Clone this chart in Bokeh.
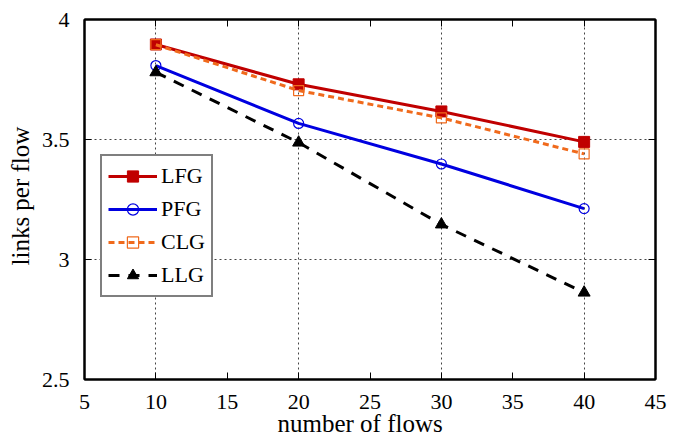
from bokeh.plotting import figure
from bokeh.models import (Range1d, FixedTicker, LinearAxis, CustomJSTickFormatter, Legend, LegendItem, Title)
from bokeh.embed import file_html
from bokeh.resources import INLINE

flows = [10, 20, 30, 40]
lfg = [3.896, 3.730, 3.617, 3.490]
pfg = [3.808, 3.567, 3.398, 3.212]
clg = [3.895, 3.704, 3.590, 3.440]
llg = [3.780, 3.487, 3.146, 2.862]

x_ticks = [5, 10, 15, 20, 25, 30, 35, 40, 45]
y_ticks = [2.5, 3, 3.5, 4]
x_grid = [10, 20, 30, 40]
y_grid = [3, 3.5]

FONT = "Liberation Serif"

p = figure(width=681, height=439, output_backend="svg", toolbar_location=None,
           x_range=Range1d(5, 45), y_range=Range1d(2.5, 4),
           min_border_left=84, min_border_right=26, min_border_top=19, min_border_bottom=60)
p.outline_line_color = "black"
p.outline_line_width = 2
p.background_fill_color = "white"
p.border_fill_color = "white"

fmt = CustomJSTickFormatter(code="return tick.toString();")

for ax in [p.xaxis[0], p.yaxis[0]]:
    ax.major_tick_in = 7
    ax.major_tick_out = 0
    ax.minor_tick_in = 0
    ax.minor_tick_out = 0
    ax.axis_line_width = 2
    ax.major_tick_line_width = 1
    ax.major_label_text_font = FONT
    ax.major_label_text_font_size = "22px"
    ax.major_label_text_color = "black"
    ax.formatter = fmt

p.xaxis[0].ticker = FixedTicker(ticks=x_ticks)
p.yaxis[0].ticker = FixedTicker(ticks=y_ticks)
p.xaxis[0].major_label_standoff = 15
p.yaxis[0].major_label_standoff = 15

xlabel = Title(text="number of flows", align="left", offset=193, standoff=-7,
               text_font=FONT, text_font_size="25px", text_font_style="normal",
               text_color="black")
p.add_layout(xlabel, "below")

ylabel = Title(text="links per flow", align="left", offset=114, standoff=9,
               text_font=FONT, text_font_size="25px", text_font_style="normal",
               text_color="black")
p.add_layout(ylabel, "left")

empty = CustomJSTickFormatter(code="return '';")
top = LinearAxis(ticker=FixedTicker(ticks=x_ticks), formatter=empty, major_tick_in=7, major_tick_out=0,
                 minor_tick_in=0, minor_tick_out=0, axis_line_width=2,
                 major_label_text_font_size="1px", major_label_standoff=0)
right = LinearAxis(ticker=FixedTicker(ticks=y_ticks), formatter=empty, major_tick_in=7, major_tick_out=0,
                   minor_tick_in=0, minor_tick_out=0, axis_line_width=2,
                   major_label_text_font_size="1px", major_label_standoff=0)
p.add_layout(top, "above")
p.add_layout(right, "right")

p.xgrid.ticker = FixedTicker(ticks=x_grid)
p.ygrid.ticker = FixedTicker(ticks=y_grid)
for g in [p.xgrid[0], p.ygrid[0]]:
    g.grid_line_color = "#444444"
    g.grid_line_dash = "2 3"
    g.grid_line_width = 1

red = "#C00000"
blue = "#0000E0"
orange = "#F06A1C"

r1 = p.line(flows, lfg, line_color=red, line_width=3)
m1 = p.scatter(flows, lfg, marker="square", size=11, fill_color=red, line_color=red)
r2 = p.line(flows, pfg, line_color=blue, line_width=3)
m2 = p.scatter(flows, pfg, marker="circle", size=10, fill_color="white", fill_alpha=0, line_color=blue, line_width=1.2)
r3 = p.line(flows, clg, line_color=orange, line_width=3, line_dash="6 4")
m3 = p.scatter(flows, clg, marker="square", size=10, fill_color="white", fill_alpha=0, line_color=orange, line_width=1.2)
r4 = p.line(flows, llg, line_color="black", line_width=3, line_dash="11 9")
m4 = p.scatter(flows, llg, marker="triangle", size=12, fill_color="black", line_color="black")

legend = Legend(items=[
    LegendItem(label="LFG", renderers=[r1, m1]),
    LegendItem(label="PFG", renderers=[r2, m2]),
    LegendItem(label="CLG", renderers=[r3, m3]),
    LegendItem(label="LLG", renderers=[r4, m4]),
], location=(16, 82))
legend.border_line_color = "black"
legend.border_line_width = 2
legend.background_fill_color = "white"
legend.background_fill_alpha = 1
legend.label_text_font = FONT
legend.label_text_font_size = "22px"
legend.label_text_color = "black"
legend.glyph_width = 49
legend.glyph_height = 28
legend.label_height = 28
legend.spacing = 5
legend.padding = 6
legend.margin = 0
legend.label_standoff = 4
p.add_layout(legend, "center")

open("out.html", "w").write(file_html(p, INLINE))
